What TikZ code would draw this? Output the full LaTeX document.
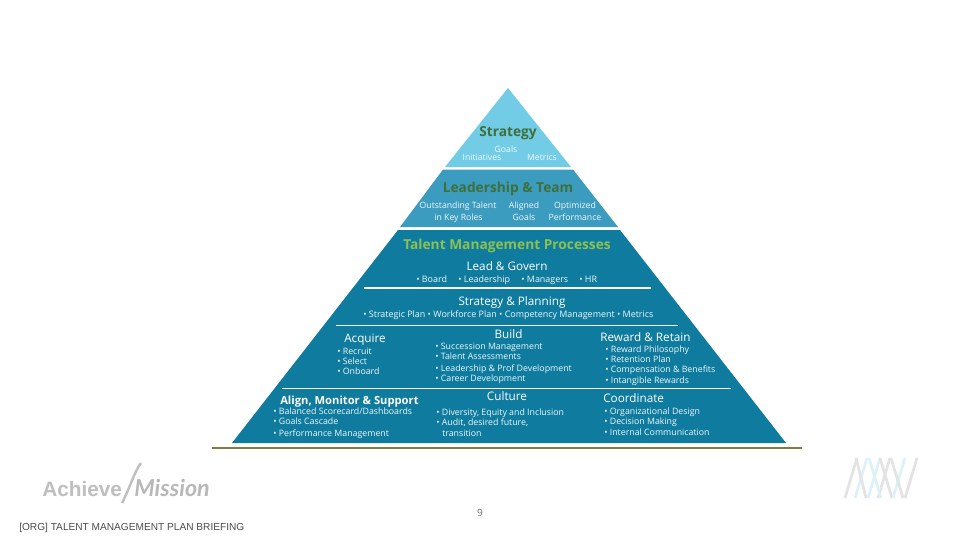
\documentclass[tikz,border=0pt]{standalone}
\usepackage{fontspec}
\setmainfont{Open Sans}
\newfontfamily\logofont{Liberation Sans}
\newfontfamily\scriptlogo{Lato}
\definecolor{tierA}{HTML}{72CCE6}
\definecolor{tierB}{HTML}{3C9CBF}
\definecolor{tierC}{HTML}{0F7C9F}
\definecolor{headG}{HTML}{3F6F3A}
\definecolor{procG}{HTML}{8CC152}
\definecolor{rule}{HTML}{7D7F42}
\definecolor{soft}{HTML}{EEF8FB}
\tikzset{
  lbl/.style={inner sep=0pt,anchor=base},
  lw/.style={lbl,anchor=base west},
  big/.style={lbl,font=\fontsize{10.3}{12}\selectfont\bfseries,text=headG},
  sub/.style={lbl,font=\fontsize{6.5}{7}\selectfont,text=soft},
  subw/.style={sub,anchor=base west,font=\fontsize{6.7}{7}\selectfont},
  head/.style={lbl,font=\fontsize{8.8}{9}\selectfont,text=white},
  headw/.style={head,anchor=base west},
  tinyt/.style={subw,font=\fontsize{6.6}{7}\selectfont},
  wrule/.style={draw=white},
  logoline/.style={line width=2pt,line cap=butt}
}
\begin{document}
\begin{tikzpicture}[x=0.75pt,y=-0.75pt]
\useasboundingbox (0,0) rectangle (960,540);
\fill[white] (0,0) rectangle (960,540);
% pyramid
\fill[tierA] (508,88) -- (571,167) -- (445,167) -- cycle;
\fill[tierB] (443,169.5) -- (573,169.5) -- (618,227) -- (400,227) -- cycle;
\fill[tierC] (398,230) -- (620,230) -- (786,443) -- (232,443) -- cycle;
\draw[rule,line width=1.4pt] (212,448) -- (802,448);
% rules
\draw[wrule,line width=1.1pt] (364,288) -- (651,288);
\draw[wrule,line width=0.6pt] (336,325.5) -- (678,325.5);
\draw[wrule,line width=1.1pt] (282,388.5) -- (731,388.5);
% Strategy
\node[big] (s1) at (508,136) {Strategy};
\node[sub] (s2) at (506,152) {Goals};
\node[sub] (s3) at (482,160) {Initiatives};
\node[sub] (s4) at (542,160) {Metrics};
% Leadership
\node[big] (l1) at (508,192) {Leadership \& Team};
\node[sub] (l2) at (458,208) {Outstanding Talent};
\node[sub] (l3) at (458.5,220) {in Key Roles};
\node[sub] (l4) at (524,208) {Aligned};
\node[sub] (l5) at (524,220) {Goals};
\node[sub] (l6) at (575,208) {Optimized};
\node[sub] (l7) at (575,220) {Performance};
% Talent
\node[big,text=procG] (t1) at (507,249) {Talent Management Processes};
\node[head] (g1) at (507,270) {Lead \& Govern};
\node[subw] (g2) at (416,282) {• Board};
\node[subw] (g3) at (458,282) {• Leadership};
\node[subw] (g4) at (521,282) {• Managers};
\node[subw] (g5) at (579,282) {• HR};
\node[head] (p1) at (512,305) {Strategy \& Planning};
\node[subw] (p2) at (363,317) {• Strategic Plan • Workforce Plan • Competency Management • Metrics};
% Acquire
\node[headw] (a1) at (344,342) {Acquire};
\node[tinyt] (a2) at (337,354) {• Recruit};
\node[tinyt] (a3) at (337,364) {• Select};
\node[tinyt] (a4) at (337,374) {• Onboard};
% Build
\node[head] (b1) at (508.5,338) {Build};
\node[tinyt] (b2) at (435,349) {• Succession Management};
\node[tinyt] (b3) at (435,359) {• Talent Assessments};
\node[tinyt] (b4) at (435,371) {• Leadership \& Prof Development};
\node[tinyt] (b5) at (435,381) {• Career Development};
% Reward
\node[headw] (r1) at (600,341) {Reward \& Retain};
\node[tinyt] (r2) at (605,352) {• Reward Philosophy};
\node[tinyt] (r3) at (605,362) {• Retention Plan};
\node[tinyt] (r4) at (605,372) {• Compensation \& Benefits};
\node[tinyt] (r5) at (605,383) {• Intangible Rewards};
% Align
\node[headw,font=\fontsize{8.4}{9}\selectfont\bfseries] (m1) at (280,404) {Align, Monitor \& Support};
\node[tinyt] (m2) at (273,414) {• Balanced Scorecard/Dashboards};
\node[tinyt] (m3) at (273,424) {• Goals Cascade};
\node[tinyt] (m4) at (273,436) {• Performance Management};
% Culture
\node[head] (c1) at (507,400) {Culture};
\node[tinyt] (c2) at (436,415) {• Diversity, Equity and Inclusion};
\node[tinyt] (c3) at (436,425) {• Audit, desired future,};
\node[tinyt] (c4) at (442,436) {transition};
% Coordinate
\node[headw] (d1) at (603,402) {Coordinate};
\node[tinyt] (d2) at (604,414) {• Organizational Design};
\node[tinyt] (d3) at (604,424) {• Decision Making};
\node[tinyt] (d4) at (604,435) {• Internal Communication};
% footer
\node[lbl,font=\fontsize{7.5}{9}\selectfont,text=black!55] (pg) at (480,516) {9};
\node[lw,font=\logofont\fontsize{7.6}{9}\selectfont,text=black!70] (org) at (19,530) {[ORG] TALENT MANAGEMENT PLAN BRIEFING};
% left logo
\node[lw,font=\logofont\fontsize{15.6}{17}\selectfont\bfseries,text=black!25] (lg1) at (42,496) {Achieve};
\draw[black!25,line width=1.8pt] (122,503) .. controls (130,488) and (134,472) .. (141,463);
\node[lw,font=\scriptlogo\itshape\fontsize{17.5}{20}\selectfont\bfseries,text=black!28] (lg2) at (134,496) {Mission};
% right logo
\foreach \xa/\xb/\c in {845/857/black!11,855/867/tierA!25,866/856/black!11,868/880/tierA!25,878/890/black!11,881/869/tierA!25,892/880/black!11,893/905/tierA!25,905/917/black!11,903/891/black!11}
  \draw[logoline,draw=\c] (\xa,498) -- (\xb,458);
\end{tikzpicture}
\end{document}
